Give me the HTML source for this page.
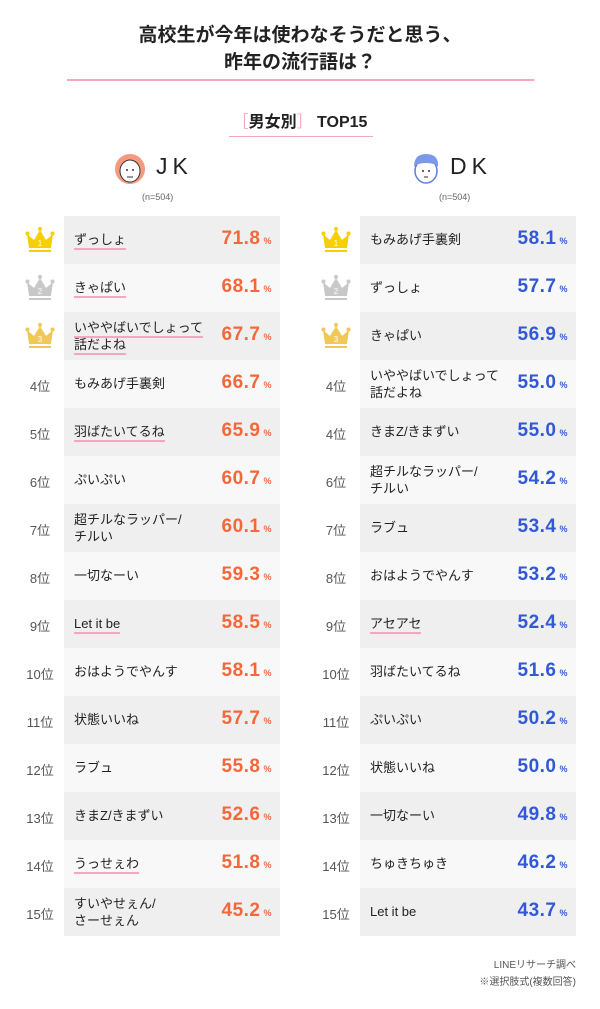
<!DOCTYPE html>
<html><head><meta charset="utf-8">
<style>
body{margin:0;width:600px;height:1009px;background:#fff;font-family:"Liberation Sans","Noto Sans CJK JP",sans-serif;position:relative;overflow:hidden;color:#222}
.abs{position:absolute}
.title{left:0;width:600px;text-align:center;font-size:19px;font-weight:bold;line-height:27px;top:22px;color:#222}
.row{position:absolute;height:48px;width:216px}
.lbl{position:absolute;left:10px;font-size:13px;line-height:17px;color:#222}
.lbl span{border-bottom:2px solid #f7a6bf;padding-bottom:1px}
.val{position:absolute;right:8px;top:12px;font-size:19px;font-weight:bold;letter-spacing:0.5px}
.val small{font-size:9px;margin-left:3px}
.rank{position:absolute;width:40px;text-align:center;font-size:13px;color:#555}
</style></head><body>
<div class="abs title">高校生が今年は使わなそうだと思う、<br>昨年の流行語は？</div>
<div class="abs" style="left:67px;top:79px;width:467px;height:2px;background:#f7a6bf"></div>
<div class="abs" style="left:190px;top:108px;width:220px;text-align:center;font-size:16px;font-weight:bold"><span style="color:#f7a6bf;font-weight:normal">［</span>男女別<span style="color:#f7a6bf;font-weight:normal">］</span> TOP15</div>
<div class="abs" style="left:229px;top:136px;width:144px;height:1px;background:#f7a6bf"></div>
<svg class="abs" style="left:113px;top:152px" width="34" height="34"><circle cx="17" cy="17" r="15" fill="#f49a7e"/><ellipse cx="17" cy="19" rx="10" ry="11" fill="#fff" stroke="#333" stroke-width="1"/><circle cx="14" cy="18" r="1" fill="#333"/><circle cx="20" cy="18" r="1" fill="#333"/><path d="M14 25h6" stroke="#333"/></svg>
<div class="abs" style="left:156px;top:153px;font-size:23px;letter-spacing:5px">JK</div>
<div class="abs" style="left:142px;top:192px;font-size:9px;color:#666">(n=504)</div>
<svg class="abs" style="left:409px;top:152px" width="34" height="34"><ellipse cx="17" cy="19" rx="11" ry="12" fill="#fff" stroke="#5b7fdc" stroke-width="1.5"/><path d="M5 15q0-13 12-13q13 0 12 13q-3-4-12-4t-12 4z" fill="#7c98e8"/><circle cx="14" cy="19" r="1" fill="#333"/><circle cx="20" cy="19" r="1" fill="#333"/><path d="M15 25h4" stroke="#333"/></svg>
<div class="abs" style="left:450px;top:153px;font-size:23px;letter-spacing:5px">DK</div>
<div class="abs" style="left:439px;top:192px;font-size:9px;color:#666">(n=504)</div>
<div id="rows"></div>
<div class="abs" style="right:24px;top:957px;font-size:10px;color:#555;text-align:right;line-height:17px">LINEリサーチ調べ<br>※選択肢式(複数回答)</div>
<script>
const ranks=["1","2","3","4位","5位","6位","7位","8位","9位","10位","11位","12位","13位","14位","15位"];
const dkRanks=["1","2","3","4位","4位","6位","7位","8位","9位","10位","11位","12位","13位","14位","15位"];
const jkLabels=["ずっしょ","きゃぱい","いややばいでしょって|話だよね","もみあげ手裏剣","羽ばたいてるね","ぷいぷい","超チルなラッパー/|チルい","一切なーい","Let it be","おはようでやんす","状態いいね","ラブュ","きまZ/きまずい","うっせぇわ","すいやせぇん/|さーせぇん"];
const jkValues=[71.8,68.1,67.7,66.7,65.9,60.7,60.1,59.3,58.5,58.1,57.7,55.8,52.6,51.8,45.2];
const jkMarked=[1,1,1,0,1,0,0,0,1,0,0,0,0,1,0];
const dkLabels=["もみあげ手裏剣","ずっしょ","きゃぱい","いややばいでしょって|話だよね","きまZ/きまずい","超チルなラッパー/|チルい","ラブュ","おはようでやんす","アセアセ","羽ばたいてるね","ぷいぷい","状態いいね","一切なーい","ちゅきちゅき","Let it be"];
const dkValues=[58.1,57.7,56.9,55.0,55.0,54.2,53.4,53.2,52.4,51.6,50.2,50.0,49.8,46.2,43.7];
const dkMarked=[0,0,0,0,0,0,0,0,1,0,0,0,0,0,0];
const crownColors=["#f5cf00","#c8c8c8","#f2c75a"];
const root=document.getElementById('rows');
function crown(c,n){return `<svg width="34" height="28" viewBox="0 0 30 28"><path d="M2 8 L9 14 L15 4 L21 14 L28 8 L26 22 H4 Z" fill="${c}"/><circle cx="2.5" cy="7.5" r="2" fill="${c}"/><circle cx="15" cy="3" r="2" fill="${c}"/><circle cx="27.5" cy="7.5" r="2" fill="${c}"/><rect x="4" y="24" width="22" height="2" fill="${c}"/><text x="15" y="20" font-size="8" fill="#fff" text-anchor="middle" font-family="Liberation Sans">${n}</text></svg>`;}
function build(x,rx,labels,values,marked,rk,color,side){
 labels.forEach((l,i)=>{
  const y=216+i*48;
  const r=document.createElement('div');
  r.className='rank';r.style.left=rx+'px';r.style.top=(i<3?y+10:y+16)+'px';
  
  
  r.innerHTML=i<3?crown(crownColors[i],rk[i]):rk[i];
  root.appendChild(r);
  const row=document.createElement('div');
  row.className='row';row.style.left=x+'px';row.style.top=y+'px';
  row.style.background=i%2===0?'#efefef':'#f8f8f8';
  
  
  const parts=l.split('|');
  const lb=document.createElement('div');lb.className='lbl';
  lb.style.top=(parts.length>1?7:15)+'px';
  lb.innerHTML=parts.map(p=>marked[i]?'<span>'+p+'</span>':p).join('<br>');
  
  
  const v=document.createElement('div');v.className='val';v.style.color=color;
  v.innerHTML=values[i].toFixed(1)+'<small>%</small>';
  
  
  row.appendChild(lb);row.appendChild(v);root.appendChild(row);
 });
}
build(64,20,jkLabels,jkValues,jkMarked,ranks,'#f5673a','jk');
build(360,316,dkLabels,dkValues,dkMarked,dkRanks,'#3158d6','dk');
</script>
</body></html>
